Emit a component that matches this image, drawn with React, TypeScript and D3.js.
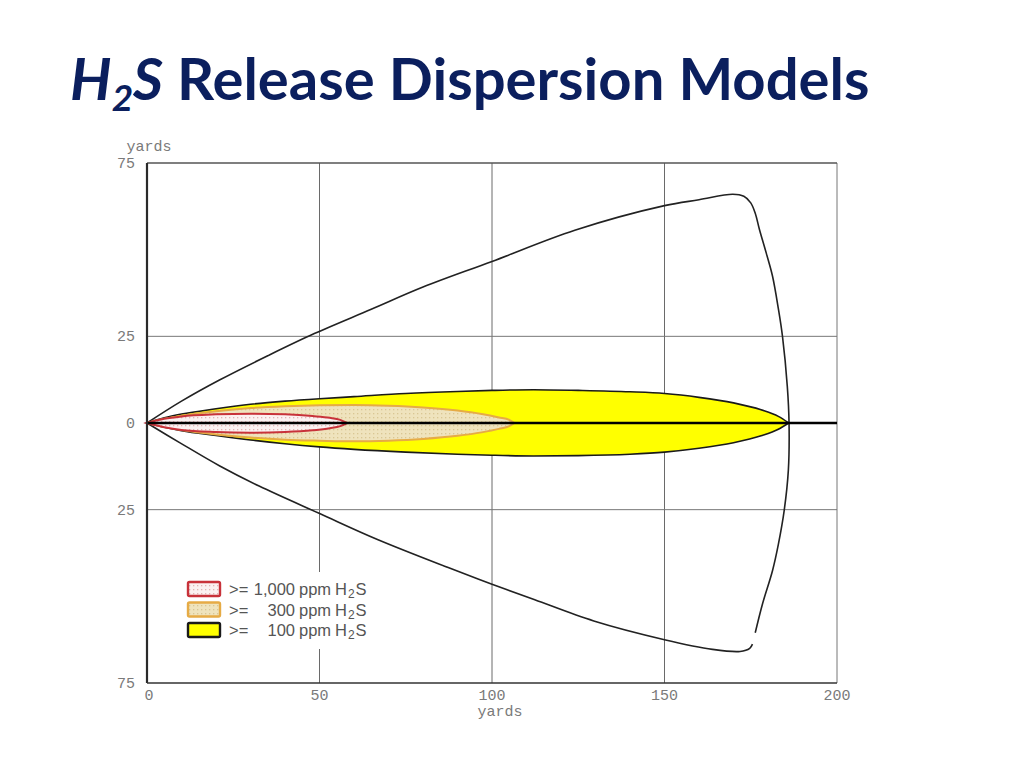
import * as d3 from "d3";

// Axis ticks (yards)
const xTicks = [0, 50, 100, 150, 200];
const yTicks = [75, 25, 0, -25, -75];
const yTickLabels = ["75", "25", "0", "25", "75"];

// Outer envelope: [downwind yards, crosswind yards]
const envelopeUpper: [number, number][] = [
  [0, 0], [10, 6.3], [21, 12.4], [35, 19.4], [48.5, 25.8], [65, 32.8],
  [80, 39.2], [100, 46.6], [124, 55.6], [150, 62.7], [160, 64.4],
  [169.8, 66], [173, 65.4], [175, 63.5], [176.3, 60.5], [177.5, 55.9],
  [179.5, 49], [181.3, 42.4], [183, 33], [184.2, 25], [185.6, 10.5],
  [186.1, 0], [185.9, -13.6], [184.7, -25.2], [183, -35], [181.3, -42.6],
  [178.4, -52.2], [176.3, -60.5],
];
const envelopeLower: [number, number][] = [
  [0, 0], [9.7, -5.8], [21.1, -12.4], [32.5, -18.2], [50.2, -26.2],
  [66.8, -33.6], [87.3, -41.7], [100, -46.5], [112.4, -51],
  [129.5, -57.1], [150, -62.5], [163.9, -65.3], [171.9, -65.9],
  [174.7, -65], [175.5, -63.8],
];

// Plumes: downwind positions with upper / lower edge
const plume100X = [0, 5, 10, 20, 30, 40, 50, 60, 75, 90, 100, 112, 125, 140, 150, 160, 170, 178, 183, 186];
const plume100Top = [0, 1.5, 2.6, 4.1, 5.4, 6.3, 7.0, 7.6, 8.5, 9.1, 9.4, 9.6, 9.4, 9.0, 8.5, 7.4, 5.8, 3.8, 1.9, 0];
const plume100Bottom = [0, -1.2, -2.2, -3.6, -4.9, -6.0, -6.9, -7.6, -8.4, -9.0, -9.3, -9.5, -9.4, -9.0, -8.4, -7.3, -5.7, -3.7, -1.8, 0];

const plume300X = [0, 5, 10, 20, 30, 40, 50, 60, 70, 80, 90, 97, 102, 105, 106.5];
const plume300Top = [0, 1.2, 2.1, 3.4, 4.3, 4.8, 5.1, 5.2, 5.0, 4.5, 3.6, 2.6, 1.6, 0.9, 0];
const plume300Bottom = [0, -1.1, -2.0, -3.3, -4.2, -4.8, -5.1, -5.3, -5.1, -4.6, -3.7, -2.7, -1.7, -0.9, 0];

const plume1000X = [0, 5, 10, 20, 30, 40, 48, 53, 56, 58];
const plume1000Top = [0, 1.2, 1.9, 2.5, 2.7, 2.5, 2.0, 1.5, 0.9, 0];
const plume1000Bottom = [0, -1.2, -2.0, -2.6, -2.8, -2.6, -2.1, -1.5, -0.9, 0];

// Legend
const legendLevels = ["1,000", "300", "100"];

export default function App() {
  const width = 1024;
  const height = 768;

  const x = d3.scaleLinear().domain([0, 200]).range([147, 837]);
  const y = d3.scaleLinear().domain([-75, 75]).range([683, 163]);

  const envLine = d3
    .line<[number, number]>()
    .x((d) => x(d[0]))
    .y((d) => y(d[1]))
    .curve(d3.curveCatmullRom);

  const plumeArea = (xs: number[], top: number[], bottom: number[]) =>
    d3
      .area<number>()
      .x((_, i) => x(xs[i]))
      .y0((_, i) => y(bottom[i]))
      .y1((_, i) => y(top[i]))
      .curve(d3.curveMonotoneX)(xs) || "";

  const tickFont = "'Liberation Mono', 'DejaVu Sans Mono', monospace";
  const tickColor = "#7a7a7a";
  const legendFont = "'Liberation Sans', Arial, sans-serif";

  const legendX = 188;
  const legendY = 582;
  const legendStep = 20.5;
  const legendStyles = [
    { fill: "url(#dots1000)", stroke: "#c8323a" },
    { fill: "url(#dots300)", stroke: "#e6ab45" },
    { fill: "#ffff00", stroke: "#1a1a1a" },
  ];

  return (
    <div style={{ position: "absolute", left: 0, top: 0 }}>
      <svg width={width} height={height} style={{ display: "block", background: "#fff" }}>
        <defs>
          <pattern id="dots1000" width="4" height="4" patternUnits="userSpaceOnUse">
            <rect width="4" height="4" fill="#fbf1f1" />
            <rect x="1" y="1" width="1.3" height="1.3" fill="#e2b4b4" />
          </pattern>
          <pattern id="dots300" width="4" height="4" patternUnits="userSpaceOnUse">
            <rect width="4" height="4" fill="#efe3bd" />
            <rect x="1" y="1" width="1.3" height="1.3" fill="#d9c693" />
          </pattern>
        </defs>

        {/* Title */}
        <text
          x={70}
          y={100}
          fill="#0b1f5e"
          fontFamily="Lato, 'Open Sans', sans-serif"
          fontWeight="bold"
          fontSize={58}
        >
          <tspan fontStyle="italic">H</tspan>
          <tspan fontStyle="italic" fontSize={37} dy={11}>2</tspan>
          <tspan fontStyle="italic" dy={-11}>S</tspan>
          <tspan> Release Dispersion Models</tspan>
        </text>

        {/* Grid */}
        {xTicks.slice(1).map((t) => (
          <line
            key={"gx" + t}
            x1={x(t)}
            x2={x(t)}
            y1={y(75)}
            y2={y(-75)}
            stroke={t === 200 ? "#777" : "#6a6a6a"}
            strokeWidth={1}
          />
        ))}
        {yTicks.slice(0, 4).map((t) => (
          <line
            key={"gy" + t}
            x1={x(0)}
            x2={x(200)}
            y1={y(t)}
            y2={y(t)}
            stroke={t === 75 ? "#555" : "#777"}
            strokeWidth={t === 75 ? 1.5 : 1}
          />
        ))}

        {/* Outer envelope */}
        <path d={envLine(envelopeUpper) || ""} fill="none" stroke="#222" strokeWidth={1.6} />
        <path d={envLine(envelopeLower) || ""} fill="none" stroke="#222" strokeWidth={1.6} />

        {/* Plumes */}
        <path
          d={plumeArea(plume100X, plume100Top, plume100Bottom)}
          fill="#ffff00"
          stroke="#1a1a1a"
          strokeWidth={1.6}
        />
        <path
          d={plumeArea(plume300X, plume300Top, plume300Bottom)}
          fill="url(#dots300)"
          stroke="#e6ab45"
          strokeWidth={2}
        />
        <path
          d={plumeArea(plume1000X, plume1000Top, plume1000Bottom)}
          fill="url(#dots1000)"
          stroke="#c8323a"
          strokeWidth={2}
        />

        {/* Centre line */}
        <line x1={x(0)} x2={x(200)} y1={y(0)} y2={y(0)} stroke="#000" strokeWidth={2.6} />

        {/* Axes */}
        <line x1={x(0)} x2={x(0)} y1={y(75)} y2={y(-75)} stroke="#2a2a2a" strokeWidth={2.2} />
        <line x1={x(0)} x2={x(200)} y1={y(-75)} y2={y(-75)} stroke="#333" strokeWidth={1.6} />

        {/* Tick labels */}
        {yTicks.map((t, i) => (
          <text
            key={"yl" + t}
            x={135}
            y={y(t) + 5}
            textAnchor="end"
            fontFamily={tickFont}
            fontSize={15}
            fill={tickColor}
          >
            {yTickLabels[i]}
          </text>
        ))}
        {xTicks.map((t) => (
          <text
            key={"xl" + t}
            x={x(t) + (t === 0 ? 2 : 0)}
            y={700}
            textAnchor="middle"
            fontFamily={tickFont}
            fontSize={15}
            fill={tickColor}
          >
            {t}
          </text>
        ))}
        <text x={149} y={151} textAnchor="middle" fontFamily={tickFont} fontSize={15} fill={tickColor}>
          yards
        </text>
        <text x={500} y={716} textAnchor="middle" fontFamily={tickFont} fontSize={15} fill={tickColor}>
          yards
        </text>

        {/* Legend */}
        <rect x={180} y={572} width={200} height={77} fill="#fff" />
        {legendLevels.map((lvl, i) => {
          const cy = legendY + i * legendStep;
          return (
            <g key={lvl}>
              <rect
                x={legendX}
                y={cy}
                width={32}
                height={14}
                rx={1.5}
                fill={legendStyles[i].fill}
                stroke={legendStyles[i].stroke}
                strokeWidth={2.4}
              />
              <text x={229} y={cy + 13} fontFamily={legendFont} fontSize={16.5} fill="#555">
                {">="}
              </text>
              <text x={295} y={cy + 13} textAnchor="end" fontFamily={legendFont} fontSize={16.5} fill="#555">
                {lvl}
              </text>
              <text x={299} y={cy + 13} fontFamily={legendFont} fontSize={16.5} fill="#555">
                ppm
              </text>
              <text x={335} y={cy + 13} fontFamily={legendFont} fontSize={16.5} fill="#555">
                H
                <tspan fontSize={12} dy={3} dx={1}>2</tspan>
                <tspan dy={-3} dx={1}>S</tspan>
              </text>
            </g>
          );
        })}
      </svg>
    </div>
  );
}
